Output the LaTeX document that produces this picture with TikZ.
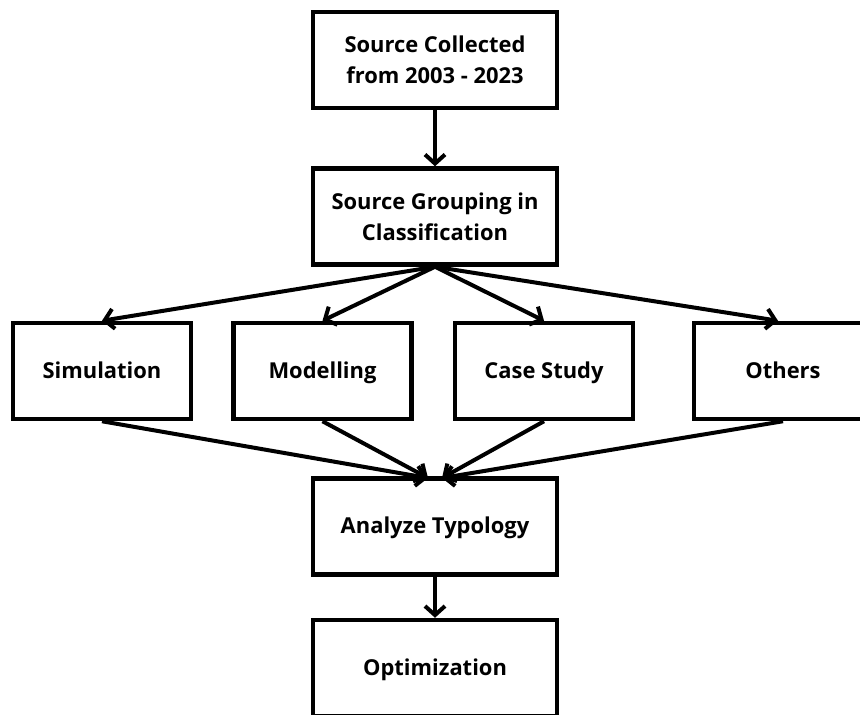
\documentclass[tikz,border=0pt]{standalone}
\usepackage{fontspec}
\setmainfont{Open Sans}
\usetikzlibrary{arrows.meta}
\tikzset{
  box/.style={draw=black, line width=4.5bp, fill=white, inner sep=0pt,
    minimum width=#1, minimum height=96bp, align=center,
    font=\bfseries\fontsize{22}{31}\selectfont},
  box/.default=244bp,
  oneline/.style={text height=16bp, text depth=2bp},
  conn/.style={draw=black, line width=4bp,
    -{Straight Barb[length=9bp,width=20bp,line width=4bp]}}
}
\begin{document}
\begin{tikzpicture}[x=1bp,y=-1bp]
\useasboundingbox (0,0) rectangle (860,715);
\clip (0,0) rectangle (860,715);
\fill[white] (0,0) rectangle (860,715);
\node[box] (src) at (435,60) {Source Collected\\from 2003 - 2023};
\node[box] (grp) at (435,216.5) {Source Grouping in\\Classification};
\node[box=178bp,oneline] (sim) at (102,371) {Simulation};
\node[box=178bp,oneline] (mod) at (322.5,371) {Modelling};
\node[box=178bp,oneline] (cas) at (544,371) {Case Study};
\node[box=178bp,oneline] (oth) at (783,371) {Others};
\node[box,oneline] (ana) at (435,526.5) {Analyze Typology};
\node[box,oneline] (opt) at (435,668) {Optimization};
\coordinate (inL) at (428,478);
\coordinate (inR) at (442,478);
\draw[conn] (src.south) -- (grp.north);
\draw[conn] (grp.south) -- (sim.north);
\draw[conn] (grp.south) -- (mod.north);
\draw[conn] (grp.south) -- (cas.north);
\draw[conn] (grp.south) -- ([xshift=-5bp]oth.north);
\draw[conn] (sim.south) -- (inL);
\draw[conn] (mod.south) -- (inL);
\draw[conn] (cas.south) -- (inR);
\draw[conn] (oth.south) -- (inR);
\draw[conn] (ana.south) -- (opt.north);
\end{tikzpicture}
\end{document}
